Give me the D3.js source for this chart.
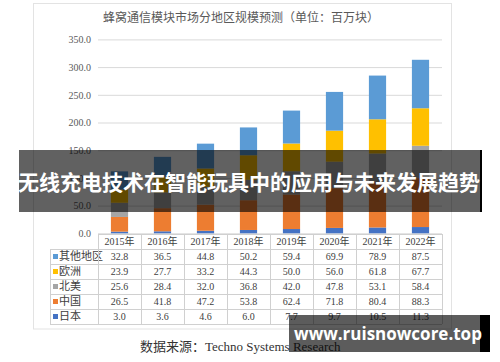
<!DOCTYPE html>
<html>
<head>
<meta charset="utf-8">
<script src="https://cdn.jsdelivr.net/npm/d3@7"></script>
<style>
  body { margin: 0; background: #fff; }
  svg { display: block; }
  .serif { font-family: "Liberation Serif", "Noto Sans CJK SC", serif; }
</style>
</head>
<body>
<div id="chart"></div>
<script>
// data
const years = ["2015年", "2016年", "2017年", "2018年", "2019年", "2020年", "2021年", "2022年"];
const regions = ["其他地区", "欧洲", "北美", "中国", "日本"];   // table order (top to bottom)
const other = [32.8, 36.5, 44.8, 50.2, 59.4, 69.9, 78.9, 87.5];
const europe = [23.9, 27.7, 33.2, 44.3, 50.0, 56.0, 61.8, 67.7];
const northAmerica = [25.6, 28.4, 32.0, 36.8, 42.0, 47.8, 53.1, 58.4];
const china = [26.5, 41.8, 47.2, 53.8, 62.4, 71.8, 80.4, 88.3];
const japan = [3.0, 3.6, 4.6, 6.0, 7.7, 9.7, 10.5, 11.3];
const yTicks = [0, 50, 100, 150, 200, 250, 300, 350];

const seriesValues = { "其他地区": other, "欧洲": europe, "北美": northAmerica, "中国": china, "日本": japan };
const colors = { "其他地区": "#5b9bd5", "欧洲": "#ffc000", "北美": "#a5a5a5", "中国": "#ed7d31", "日本": "#4472c4" };

const width = 500, height = 362;
const plot = { left: 98, right: 442, top: 39.4, bottom: 233.3 };

const svg = d3.select("#chart").append("svg")
  .attr("width", width)
  .attr("height", height);

// card frame
svg.append("rect")
  .attr("x", 33.5).attr("y", 3.5)
  .attr("width", 418).attr("height", 325.5)
  .attr("fill", "#fff")
  .attr("stroke", "#e3e3e3");

// title
svg.append("text")
  .attr("class", "serif")
  .attr("x", 241).attr("y", 21.5)
  .attr("text-anchor", "middle")
  .attr("font-size", 12)
  .attr("fill", "#595959")
  .text("蜂窝通信模块市场分地区规模预测（单位：百万块）");

// scales
const x = d3.scaleBand()
  .domain(years)
  .range([plot.left, plot.right])
  .paddingInner(0.6)
  .paddingOuter(0.3);

const y = d3.scaleLinear()
  .domain([0, 350])
  .range([plot.bottom, plot.top]);

// gridlines + y labels
const yAxis = d3.axisLeft(y)
  .tickValues(yTicks)
  .tickFormat(d3.format(".1f"))
  .tickSize(-(plot.right - plot.left))
  .tickPadding(7);

const gy = svg.append("g")
  .attr("transform", `translate(${plot.left},0)`)
  .call(yAxis);
gy.select(".domain").remove();
gy.selectAll(".tick line").attr("stroke", "#d9d9d9");
gy.selectAll(".tick text")
  .attr("class", "serif")
  .attr("font-size", 10)
  .attr("fill", "#595959");

// stacked bars (bottom: 日本 ... top: 其他地区)
const table = years.map((yr, i) => {
  const row = { year: yr };
  regions.forEach(r => row[r] = seriesValues[r][i]);
  return row;
});
const stackKeys = regions.slice().reverse();
const stacked = d3.stack().keys(stackKeys)(table);

svg.append("g")
  .selectAll("g")
  .data(stacked)
  .join("g")
  .attr("fill", d => colors[d.key])
  .selectAll("rect")
  .data(d => d)
  .join("rect")
  .attr("x", d => x(d.data.year))
  .attr("width", x.bandwidth())
  .attr("y", d => y(d[1]))
  .attr("height", d => y(d[0]) - y(d[1]));

// data table under the chart
const step = x.step();
const tableTop = 234, rowH = 15, labelLeft = 50;
const tg = svg.append("g").attr("class", "serif");
const lineColor = "#d0d0d0";

// header row
years.forEach((yr, i) => {
  tg.append("text")
    .attr("x", plot.left + step * (i + 0.5))
    .attr("y", tableTop + rowH / 2)
    .attr("dy", "0.35em")
    .attr("text-anchor", "middle")
    .attr("font-size", 10)
    .attr("fill", "#404040")
    .text(yr);
});

regions.forEach((r, j) => {
  const cy = tableTop + rowH * (j + 1.5);
  tg.append("rect")
    .attr("x", labelLeft + 3).attr("y", cy - 2.5)
    .attr("width", 5).attr("height", 5)
    .attr("fill", colors[r]);
  tg.append("text")
    .attr("x", labelLeft + 9).attr("y", cy)
    .attr("dy", "0.35em")
    .attr("font-size", 11)
    .attr("fill", "#404040")
    .text(r);
  seriesValues[r].forEach((v, i) => {
    tg.append("text")
      .attr("x", plot.left + step * (i + 0.5))
      .attr("y", cy)
      .attr("dy", "0.35em")
      .attr("text-anchor", "middle")
      .attr("font-size", 10)
      .attr("fill", "#404040")
      .text(v.toFixed(1));
  });
});

// table lines
const tableBottom = tableTop + rowH * (regions.length + 1);
tg.append("line")
  .attr("x1", plot.left).attr("x2", plot.right)
  .attr("y1", tableTop + 0.5).attr("y2", tableTop + 0.5)
  .attr("stroke", lineColor);
for (let j = 1; j <= regions.length + 1; j++) {
  tg.append("line")
    .attr("x1", labelLeft).attr("x2", plot.right)
    .attr("y1", tableTop + rowH * j + 0.5).attr("y2", tableTop + rowH * j + 0.5)
    .attr("stroke", lineColor);
}
tg.append("line")
  .attr("x1", labelLeft + 0.5).attr("x2", labelLeft + 0.5)
  .attr("y1", tableTop + rowH).attr("y2", tableBottom)
  .attr("stroke", lineColor);
for (let i = 0; i <= years.length; i++) {
  tg.append("line")
    .attr("x1", plot.left + step * i + 0.5).attr("x2", plot.left + step * i + 0.5)
    .attr("y1", tableTop).attr("y2", tableBottom)
    .attr("stroke", lineColor);
}

// source note
svg.append("text")
  .attr("class", "serif")
  .attr("x", 140).attr("y", 351)
  .attr("font-size", 13)
  .attr("fill", "#333")
  .text("数据来源：Techno Systems Research");

// headline overlay band
svg.append("rect")
  .attr("x", 19).attr("y", 150)
  .attr("width", 461).attr("height", 62)
  .attr("fill", "rgba(0,0,0,0.62)");
svg.append("rect")
  .attr("x", 480).attr("y", 150)
  .attr("width", 2).attr("height", 62)
  .attr("fill", "#000");
svg.append("text")
  .attr("x", 249).attr("y", 183)
  .attr("dy", "0.35em")
  .attr("text-anchor", "middle")
  .attr("font-family", "'Noto Sans CJK SC', sans-serif")
  .attr("font-weight", "bold")
  .attr("font-size", 21)
  .attr("fill", "#fff")
  .text("无线充电技术在智能玩具中的应用与未来发展趋势");

// watermark band
svg.append("rect")
  .attr("x", 289).attr("y", 315)
  .attr("width", 191).attr("height", 37)
  .attr("fill", "rgba(0,0,0,0.64)");
svg.append("rect")
  .attr("x", 480).attr("y", 315)
  .attr("width", 10).attr("height", 37)
  .attr("fill", "#000");
svg.append("text")
  .attr("x", 388).attr("y", 334)
  .attr("dy", "0.35em")
  .attr("text-anchor", "middle")
  .attr("font-family", "'Open Sans', 'Noto Sans', sans-serif")
  .attr("font-weight", "bold")
  .attr("font-size", 17)
  .attr("fill", "#fff")
  .text("www.ruisnowcore.top");
</script>
</body>
</html>
